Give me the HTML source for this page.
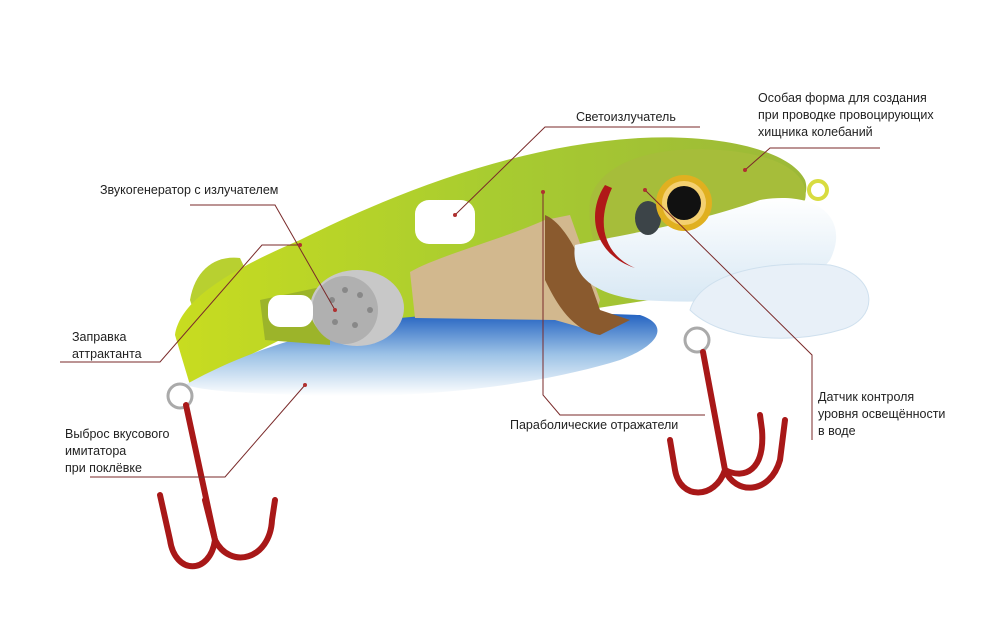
<!DOCTYPE html>
<html><head><meta charset="utf-8"><style>
html,body{margin:0;padding:0;background:#fff;}
svg{display:block}
text{font-family:"Liberation Sans",sans-serif;font-size:12.5px;fill:#222;}
</style></head><body>
<svg width="1000" height="634" viewBox="0 0 1000 634" xmlns="http://www.w3.org/2000/svg">
<defs>
<linearGradient id="gb" x1="0" y1="0" x2="0" y2="1">
<stop offset="0" stop-color="#1f5fc0"/><stop offset="0.5" stop-color="#9cc2e6"/><stop offset="1" stop-color="#ffffff"/></linearGradient>
<linearGradient id="gg" x1="0" y1="0" x2="1" y2="0">
<stop offset="0" stop-color="#c8dc20"/><stop offset="0.5" stop-color="#a8cc30"/><stop offset="1" stop-color="#9cb838"/></linearGradient>
<linearGradient id="gl" x1="0" y1="0" x2="0" y2="1">
<stop offset="0" stop-color="#ffffff"/><stop offset="1" stop-color="#d8e8f4"/></linearGradient>
</defs>
<!-- tail fin -->
<path d="M190 300 C195 270 215 255 240 258 L260 300 L200 330 Z" fill="#b8d030"/>
<!-- body green -->
<path d="M175 335 C180 300 230 270 300 240 C400 190 520 145 640 138 C720 134 790 150 805 180 C810 195 800 205 790 210 L720 230 L650 300 L520 320 L300 330 L190 385 Z" fill="url(#gg)"/>
<!-- belly -->
<path d="M185 385 C230 360 300 330 400 318 C480 310 560 312 640 315 C670 325 660 345 620 360 C540 385 420 400 300 395 C250 393 210 392 185 385 Z" fill="url(#gb)"/>
<!-- cavity -->
<path d="M260 300 L330 285 L330 345 L265 340 Z" fill="#9cb42a"/>
<ellipse cx="357" cy="308" rx="47" ry="38" fill="#c8c8c8"/>
<ellipse cx="345" cy="310" rx="33" ry="34" fill="#b0b0b0"/>
<g fill="#888"><circle cx="332" cy="300" r="3"/><circle cx="345" cy="290" r="3"/><circle cx="360" cy="295" r="3"/><circle cx="370" cy="310" r="3"/><circle cx="355" cy="325" r="3"/><circle cx="335" cy="322" r="3"/></g>
<path d="M410 272 C440 255 500 240 545 220 L570 215 L600 300 L590 330 L555 320 L415 318 Z" fill="#d2b88e"/>
<path d="M545 215 C570 225 590 280 600 310 L630 320 L600 335 C570 330 555 300 545 280 Z" fill="#8a5a2e"/>
<rect x="268" y="295" width="45" height="32" rx="12" fill="#fff"/>
<rect x="415" y="200" width="60" height="44" rx="14" fill="#fff"/>
<!-- head -->
<path d="M590 200 C600 160 660 145 720 150 C790 155 810 180 805 200 C790 215 760 225 740 235 C710 255 690 275 660 290 C620 290 585 260 590 200 Z" fill="#a6bd3a"/>
<path d="M575 245 C620 235 690 225 760 200 C820 190 850 220 830 260 C800 300 720 305 640 300 C600 295 570 280 575 245 Z" fill="url(#gl)"/>
<path d="M690 310 C700 275 760 260 830 265 C880 275 880 320 840 330 C790 345 720 340 690 310 Z" fill="#e8f0f8" stroke="#cfe0ee"/>
<path d="M605 185 C585 215 595 255 635 268 C605 255 595 225 612 188 Z" fill="#b01818"/>
<ellipse cx="648" cy="218" rx="13" ry="17" fill="#3c4448"/>
<circle cx="684" cy="203" r="28" fill="#e0b020"/>
<circle cx="684" cy="203" r="22" fill="#f4d070"/>
<circle cx="684" cy="203" r="17" fill="#111"/>
<circle cx="818" cy="190" r="9" fill="none" stroke="#d8dc40" stroke-width="4"/>
<!-- rings -->
<circle cx="180" cy="396" r="12" fill="none" stroke="#aaa" stroke-width="3"/>
<circle cx="697" cy="340" r="12" fill="none" stroke="#aaa" stroke-width="3"/>
<!-- hooks -->
<g fill="none" stroke="#a81818" stroke-width="6" stroke-linecap="round">
<path d="M186 405 L215 540 C210 575 175 575 170 540 L160 495"/>
<path d="M215 540 C230 570 270 560 272 520 L275 500"/>
<path d="M215 540 L205 500"/>
<path d="M703 352 L725 470 C715 500 680 500 675 470 L670 440"/>
<path d="M725 470 C735 495 770 495 780 460 L785 420"/>
<path d="M725 470 C745 480 765 470 762 430 L760 415"/>
</g>
<!-- leaders -->
<g fill="none" stroke="#7a2a2a" stroke-width="1">
<path d="M455 215 L545 127 L700 127"/>
<path d="M745 170 L770 148 L880 148"/>
<path d="M335 310 L275 205 L190 205"/>
<path d="M300 245 L262 245 L160 362 L60 362"/>
<path d="M305 385 L225 477 L90 477"/>
<path d="M543 192 L543 395 L560 415 L705 415"/>
<path d="M645 190 L812 355 L812 440"/>
</g>
<g fill="#b03030"><circle cx="455" cy="215" r="2"/><circle cx="745" cy="170" r="2"/><circle cx="335" cy="310" r="2"/><circle cx="300" cy="245" r="2"/><circle cx="305" cy="385" r="2"/><circle cx="543" cy="192" r="2"/><circle cx="645" cy="190" r="2"/></g>
<text x="576" y="121">Светоизлучатель</text>
<text x="758" y="102">Особая форма для создания</text>
<text x="758" y="119">при проводке провоцирующих</text>
<text x="758" y="136">хищника колебаний</text>
<text x="100" y="194">Звукогенератор с излучателем</text>
<text x="72" y="341">Заправка</text>
<text x="72" y="358">аттрактанта</text>
<text x="65" y="438">Выброс вкусового</text>
<text x="65" y="455">имитатора</text>
<text x="65" y="472">при поклёвке</text>
<text x="510" y="429">Параболические отражатели</text>
<text x="818" y="401">Датчик контроля</text>
<text x="818" y="418">уровня освещённости</text>
<text x="818" y="435">в воде</text>
</svg>
</body></html>
